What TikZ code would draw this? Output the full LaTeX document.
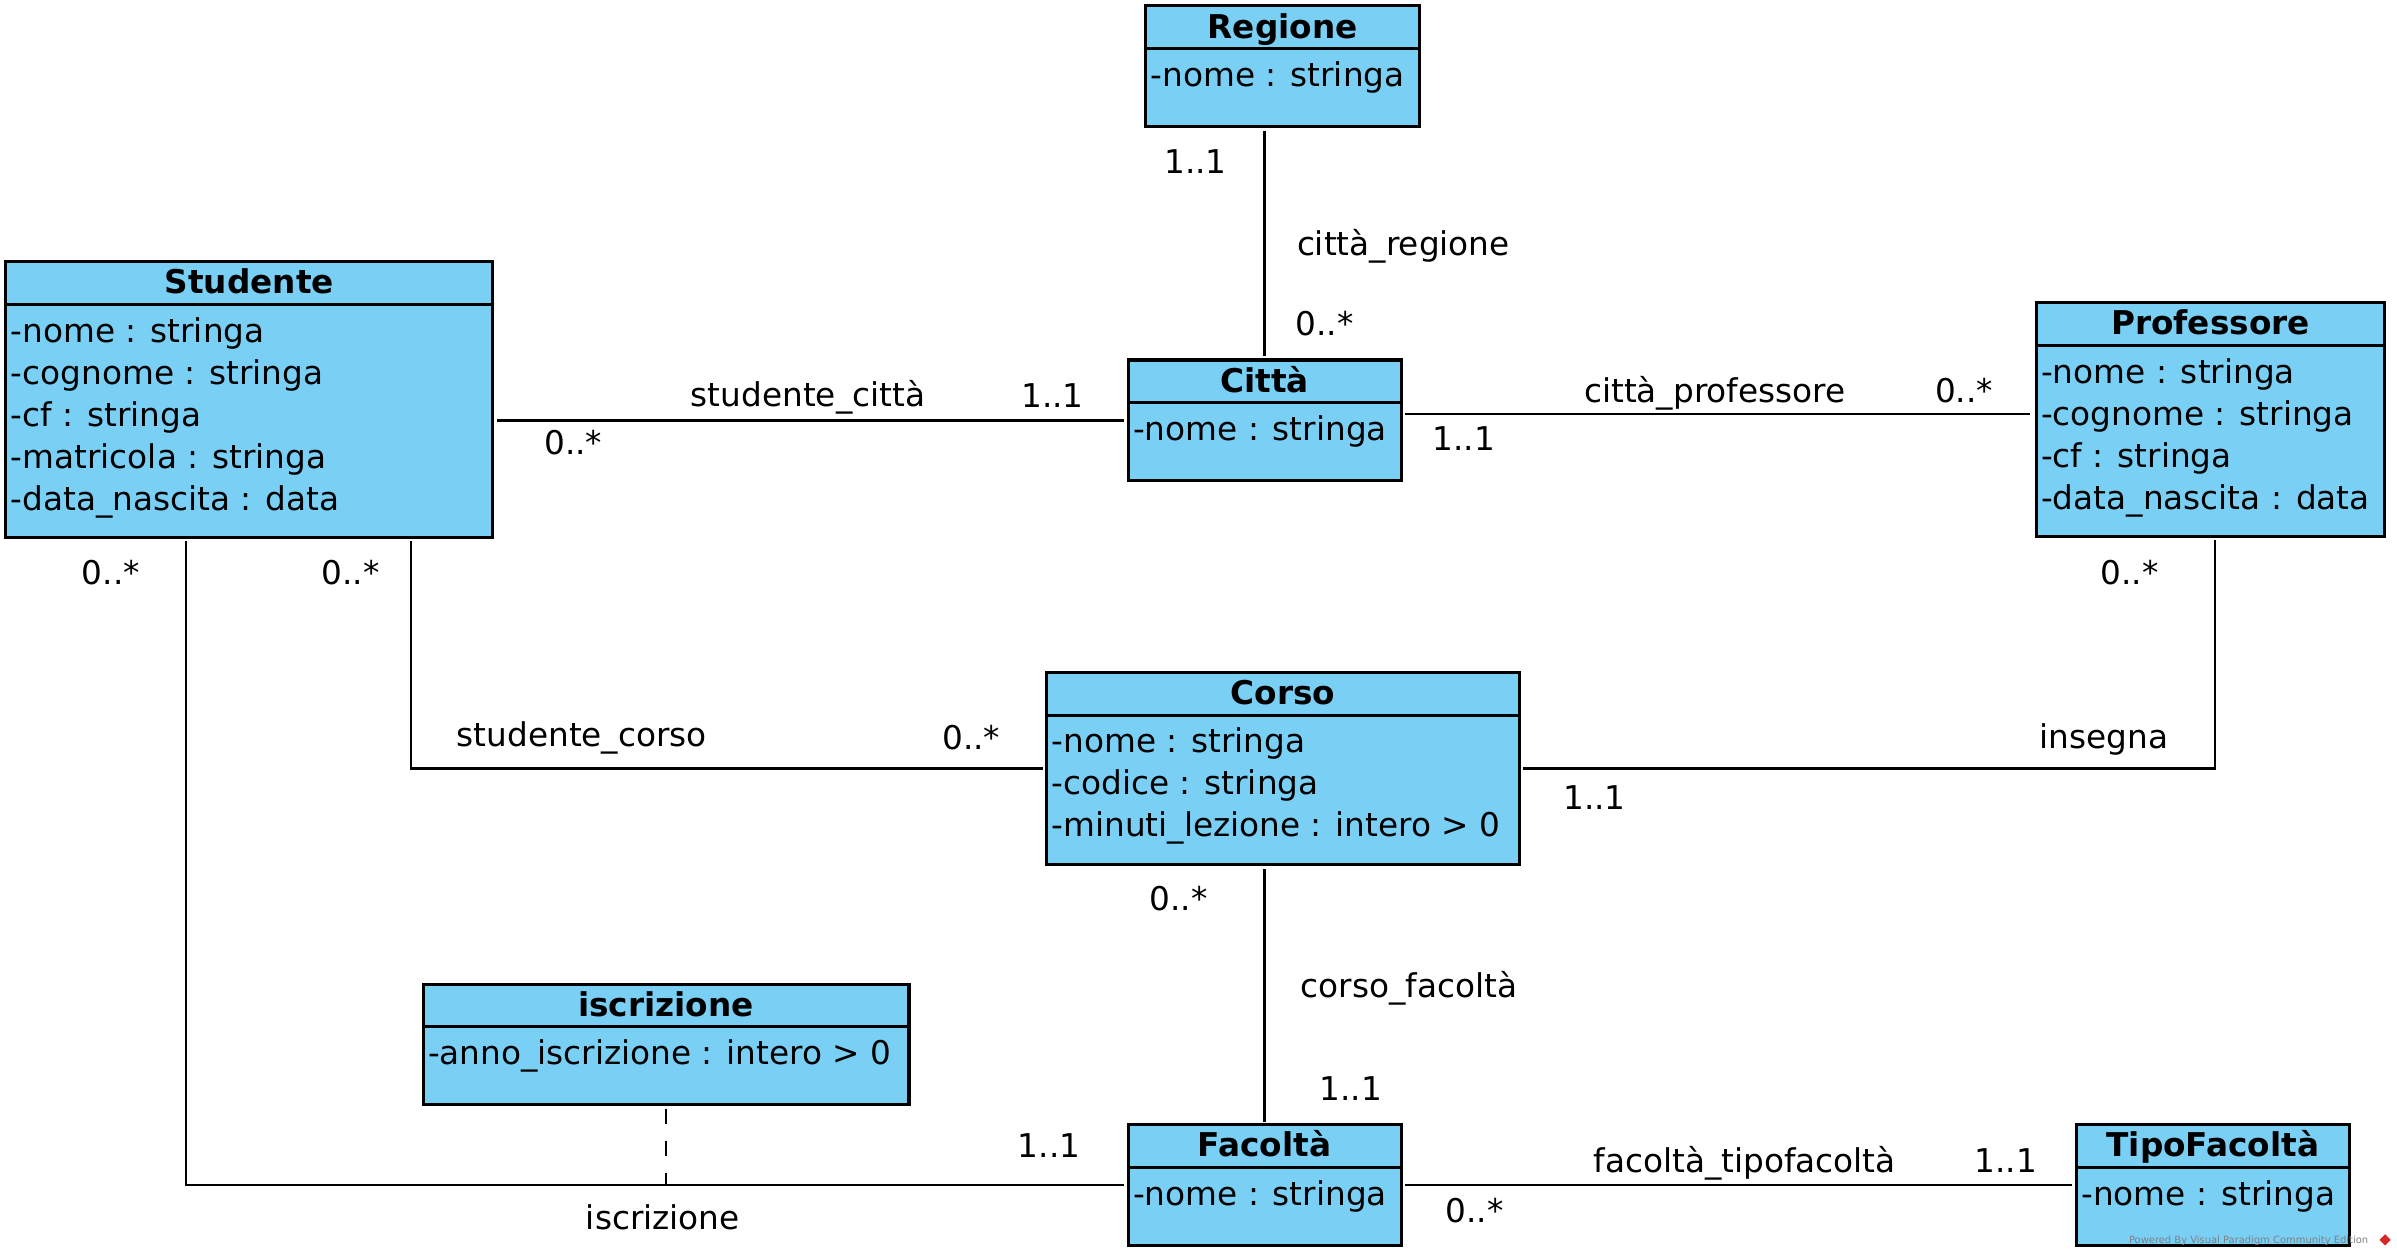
\documentclass[tikz,border=0pt]{standalone}
\usepackage{fontspec}
\setmainfont{DejaVu Sans}
\usetikzlibrary{calc,shapes.geometric}

\definecolor{classfill}{RGB}{122,207,245}
\definecolor{vplogo}{RGB}{214,40,40}

\newcommand{\umlfont}{\fontsize{21.4}{27.5}\selectfont}

\tikzset{
  classbox/.style={draw, fill=classfill, line width=2pt, anchor=north west, inner sep=0pt, outer sep=0pt},
  classtitle/.style={anchor=base, inner sep=0pt, font=\umlfont\bfseries},
  classattr/.style={anchor=base west, inner sep=0pt, font=\umlfont},
  lbl/.style={anchor=base, inner sep=0pt, font=\umlfont},
  assoc/.style={line width=1.5pt},
}

% #1 name, #2 top left, #3 width, #4 height, #5 title, #6 attributes
\newcommand{\umlclass}[6]{%
  \node[classbox, minimum width=#3, minimum height=#4] (#1) at (#2) {};
  \draw[line width=2pt] ($(#1.north west)+(0,28)$) -- ($(#1.north east)+(0,28)$);
  \node[classtitle] (#1-title) at ($(#1.north)+(0,21)$) {#5};
  \foreach \attrline [count=\i from 0] in {#6}
    \node[classattr] (#1-attr\i) at ($(#1.north west)+(3,52.7+27.5*\i)$) {\attrline};
}

\begin{document}
\begin{tikzpicture}[x=1pt, y=-1pt]
    \useasboundingbox (0,0) rectangle (1568,822);

    % Classes
    \umlclass{regione}{749.6,3.9}{179}{79}{Regione}{-nome : stringa}
    \umlclass{studente}{3.9,171.2}{318.4}{180.3}{Studente}{-nome : stringa, -cognome : stringa, -cf : stringa, -matricola : stringa, -data\_nascita : data}
    \umlclass{citta}{738,235.5}{178.5}{79}{Città}{-nome : stringa}
    \umlclass{professore}{1332,198}{228}{153}{Professore}{-nome : stringa, -cognome : stringa, -cf : stringa, -data\_nascita : data}
    \umlclass{corso}{684.7,439.8}{309}{126}{Corso}{-nome : stringa, -codice : stringa, -minuti\_lezione : intero > 0}
    \umlclass{iscrizione}{276.8,643.7}{317.8}{79}{iscrizione}{-anno\_iscrizione : intero > 0}
    \umlclass{facolta}{738,735.7}{178.5}{79}{Facoltà}{-nome : stringa}
    \umlclass{tipofacolta}{1358.3,735.7}{178.5}{79}{TipoFacoltà}{-nome : stringa}

    % Associations
    \draw[assoc] ($(regione.south -| citta.north)+(0,2.5)$) -- ($(citta.north)+(0,-2.5)$);
    \draw[assoc] ($(studente.east |- citta.west)+(3,0)$) -- ($(citta.west)+(-2.5,0)$);
    \draw[assoc] ($(citta.east)+(2.5,-4)$) -- ($(professore.west |- citta.east)+(-4,-4)$);
    \draw[assoc] ($(studente.south west)+(265,2.5)$) |- ($(corso.west)+(-2.5,0)$);
    \draw[assoc] ($(corso.east)+(2.5,0)$) -| ($(professore.south)+(2.7,2.5)$);
    \draw[assoc] ($(corso.south -| facolta.north)+(0,2.5)$) -- ($(facolta.north)+(0,-2)$);
    \draw[assoc] ($(studente.south west)+(118,2.5)$) |- ($(facolta.west)+(-2.5,0)$);
    \draw[assoc] ($(facolta.east)+(2.5,0)$) -- ($(tipofacolta.west)+(-3,0)$);
    \draw[assoc, dash pattern=on 10pt off 11pt] ($(iscrizione.south)+(0,2.5)$) -- (iscrizione.south |- facolta.west);

    % Names and multiplicities
    \node[lbl] (m-reg1) at (782,113.7) {1..1};
    \node[lbl] (n-cittareg) at (918,167) {città\_regione};
    \node[lbl] (m-reg2) at (866.5,219.7) {0..*};

    \node[lbl] (n-studcitta) at (528.6,266) {studente\_città};
    \node[lbl] (m-sc1) at (688.5,266.5) {1..1};
    \node[lbl] (m-sc2) at (375,297) {0..*};

    \node[lbl] (n-cittaprof) at (1121.7,263) {città\_professore};
    \node[lbl] (m-cp1) at (1284.8,263) {0..*};
    \node[lbl] (m-cp2) at (957.5,294.4) {1..1};

    \node[lbl] (m-is1) at (72.5,382.2) {0..*};
    \node[lbl] (m-st1) at (229.3,382.2) {0..*};
    \node[lbl] (n-studcorso) at (380.6,488.6) {studente\_corso};
    \node[lbl] (m-st2) at (635.4,490) {0..*};

    \node[lbl] (m-ins1) at (1393,382.3) {0..*};
    \node[lbl] (n-insegna) at (1376.3,489.6) {insegna};
    \node[lbl] (m-ins2) at (1043,529.3) {1..1};

    \node[lbl] (m-cf1) at (771,595.6) {0..*};
    \node[lbl] (n-corsofac) at (921.8,652.4) {corso\_facoltà};
    \node[lbl] (m-cf2) at (883.5,719.6) {1..1};

    \node[lbl] (m-is2) at (686.2,757) {1..1};
    \node[lbl] (n-iscr) at (433.6,804.4) {iscrizione};

    \node[lbl] (n-factipo) at (1141.2,767) {facoltà\_tipofacoltà};
    \node[lbl] (m-ft1) at (1312,767) {1..1};
    \node[lbl] (m-ft2) at (964.5,800) {0..*};

    % Watermark
    \node[anchor=base west, inner sep=0pt, text=gray, font=\fontsize{6.5}{7}\selectfont] (wm) at (1392.5,813.3) {Powered By Visual Paradigm Community Edition};
    \node[diamond, fill=vplogo, inner sep=0pt, minimum size=7.5pt] (wmlogo) at (1560.2,811) {};
\end{tikzpicture}
\end{document}
